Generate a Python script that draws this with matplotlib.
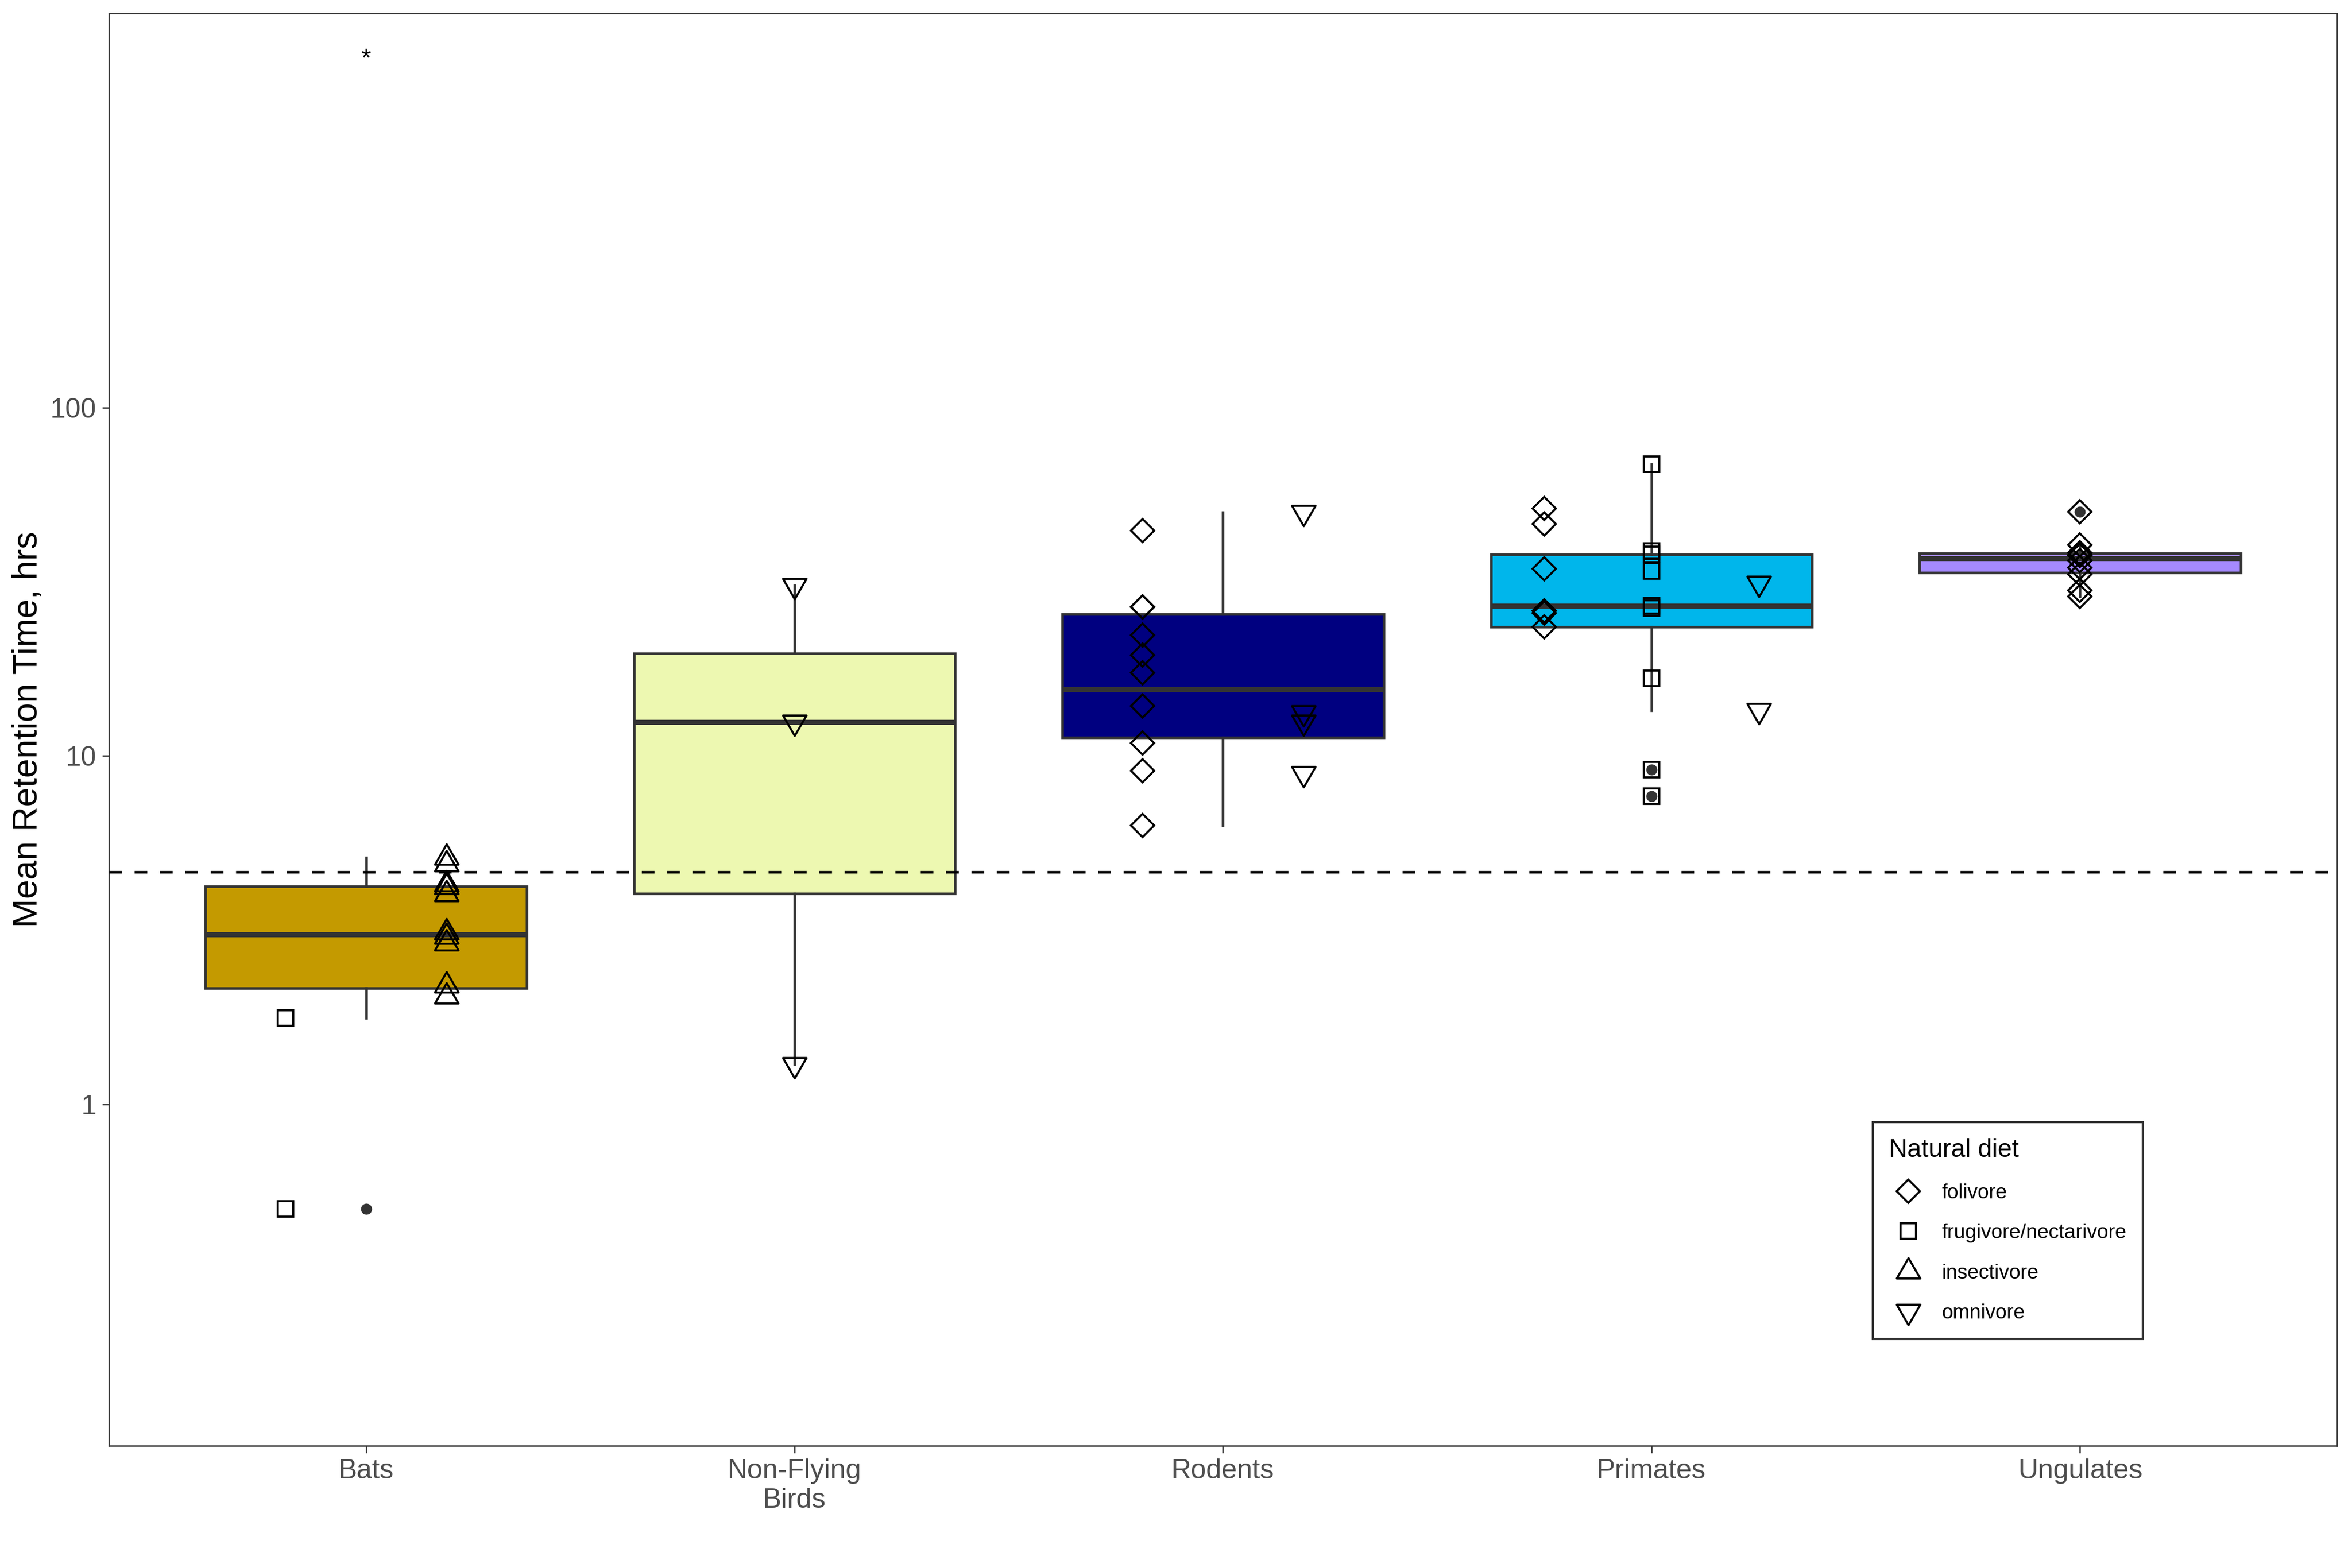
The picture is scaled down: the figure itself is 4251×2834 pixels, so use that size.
import numpy as np
import matplotlib
matplotlib.use("Agg")
import matplotlib.pyplot as plt
from matplotlib import cbook
from matplotlib.lines import Line2D
from matplotlib.path import Path
from matplotlib.markers import MarkerStyle

plt.rcParams['font.family'] = ['Liberation Sans', 'DejaVu Sans']

groups = ["Bats", "Non-Flying\nBirds", "Rodents", "Primates", "Ungulates"]
diets = ["folivore", "frugivore/nectarivore", "insectivore", "omnivore"]
box_colors = ["#C49A00", "#EDF8B1", "#000080", "#00B6EB", "#A58AFF"]

# mean retention time (hrs)
bats_frugivore = [1.77, 0.50]
bats_insectivore = [5.11, 4.88, 4.28, 4.20, 4.01, 3.11, 3.02, 2.89, 2.19, 2.04]
birds_omnivore = [30.9, 12.5, 1.30]
rodents_folivore = [44.3, 26.8, 26.8, 22.2, 19.5, 17.3, 13.9, 10.9, 9.05, 6.32]
rodents_omnivore = [50.1, 13.3, 12.5, 8.89]
primates_folivore = [51.4, 46.4, 34.4, 26.1, 25.7, 23.5]
primates_frugivore = [68.9, 38.7, 37.9, 33.9, 27.0, 26.6, 16.7, 9.14, 7.66]
primates_omnivore = [31.3, 13.5]
ungulates_folivore = [50.2, 40.3, 38.3, 37.7, 37.6, 36.4, 34.7, 33.2, 29.9, 28.7]

threshold = 4.64
star_y = 1000

data = [
    {"frugivore/nectarivore": bats_frugivore, "insectivore": bats_insectivore},
    {"omnivore": birds_omnivore},
    {"folivore": rodents_folivore, "omnivore": rodents_omnivore},
    {"folivore": primates_folivore, "frugivore/nectarivore": primates_frugivore,
     "omnivore": primates_omnivore},
    {"folivore": ungulates_folivore},
]

# triangles centred on their centroid, like R's pch 2 / 6
tri_up = Path([(0, 1), (0.866, -0.5), (-0.866, -0.5), (0, 0)],
              [Path.MOVETO, Path.LINETO, Path.LINETO, Path.CLOSEPOLY])
tri_dn = Path([(0, -1), (0.866, 0.5), (-0.866, 0.5), (0, 0)],
              [Path.MOVETO, Path.LINETO, Path.LINETO, Path.CLOSEPOLY])
markers = {
    "folivore": ("D", 7.0),
    "frugivore/nectarivore": ("s", 6.6),
    "insectivore": (MarkerStyle(tri_up), 11.8),
    "omnivore": (MarkerStyle(tri_dn), 11.8),
}

fig = plt.figure(figsize=(4251 / 300, 2834 / 300), dpi=300)
ax = fig.add_axes([0.04634, 0.07798, 0.94731, 0.91355])
ax.set_yscale("log")

# box stats on log10 values (as ggplot does with scale_y_log10)
stats = []
for d in data:
    vals = np.concatenate([np.asarray(v, float) for v in d.values()])
    s = cbook.boxplot_stats(np.log10(vals), whis=1.5)[0]
    for k in ["med", "q1", "q3", "whislo", "whishi", "mean", "cilo", "cihi"]:
        s[k] = 10 ** s[k]
    s["fliers"] = 10 ** np.asarray(s["fliers"])
    stats.append(s)

pos = np.arange(1, len(groups) + 1)
bp = ax.bxp(stats, positions=pos, widths=0.75, patch_artist=True, showcaps=False,
            boxprops=dict(edgecolor="#333333", linewidth=1.1),
            medianprops=dict(color="#333333", linewidth=2.2),
            whiskerprops=dict(color="#333333", linewidth=1.1),
            flierprops=dict(marker="o", markerfacecolor="#333333", markeredgecolor="none",
                            markersize=4.8))
for patch, c in zip(bp["boxes"], box_colors):
    patch.set_facecolor(c)

ax.axhline(threshold, color="black", linewidth=1.1, linestyle=(0, (5, 5)), zorder=3)

# points dodged by diet
for x, d in zip(pos, data):
    present = [k for k in diets if k in d]
    n = len(present)
    for j, k in enumerate(present):
        off = (j - (n - 1) / 2) * (0.75 / n)
        m, ms = markers[k]
        ax.plot(np.full(len(d[k]), x + off), d[k], linestyle="none", marker=m, markersize=ms,
                markerfacecolor="none", markeredgecolor="black", markeredgewidth=0.9, zorder=4)

ax.text(1, star_y, "*", ha="center", va="center", fontsize=11, color="black")

ax.set_xlim(0.4, 5.6)
ax.set_ylim(0.1045, 1356)
ax.set_xticks(pos)
ax.set_xticklabels(groups)
ax.set_yticks([1, 10, 100])
ax.set_yticklabels(["1", "10", "100"])
ax.yaxis.set_minor_locator(matplotlib.ticker.NullLocator())
ax.tick_params(axis="both", length=3, width=0.6, color="#333333", labelsize=12,
               labelcolor="#4D4D4D", pad=2.5)
for sp in ax.spines.values():
    sp.set_color("#333333")
    sp.set_linewidth(0.6)

ax.set_ylabel("Mean Retention Time, hrs", fontsize=15, color="black")
ax.yaxis.set_label_coords(-0.029, 0.5)

handles = [Line2D([], [], linestyle="none", marker=markers[k][0], markersize=markers[k][1],
                  markerfacecolor="none", markeredgecolor="black", markeredgewidth=0.9)
           for k in diets]
leg = ax.legend(handles, diets, title="Natural diet", loc="upper left",
                bbox_to_anchor=(0.787, 0.233), fontsize=8.8, title_fontsize=11,
                frameon=True, fancybox=False, edgecolor="black", alignment="left",
                labelspacing=1.02, handletextpad=0.7, handlelength=1.9, borderpad=0.8)
leg.get_frame().set_linewidth(1.0)

fig.savefig("out.png", dpi=300)
